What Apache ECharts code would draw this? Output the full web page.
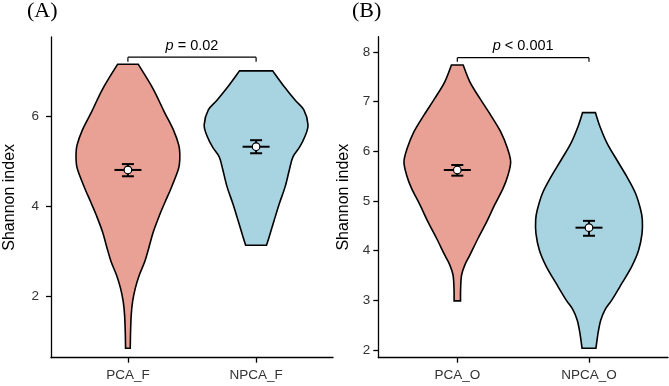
<!DOCTYPE html>
<html><head><meta charset="utf-8">
<script src="https://cdn.jsdelivr.net/npm/echarts@6/dist/echarts.min.js"></script>
<style>html,body{margin:0;padding:0;background:#fff}#c{width:669px;height:386px}</style>
</head><body><div id="c"></div>
<script>
// ---------- data ----------
const categoriesA = ['PCA_F', 'NPCA_F'];
const categoriesB = ['PCA_O', 'NPCA_O'];
const yTicksA = [2, 4, 6];
const yTicksB = [2, 3, 4, 5, 6, 7, 8];

// violin outlines: Shannon index values and relative density (max = 1)
const violinPCA_F_y = [7.155, 6.62, 6.10, 5.70, 5.36, 5.14, 4.92, 4.77, 4.40, 4.11, 3.81, 3.44, 3.07, 2.78, 2.48, 2.19, 1.89, 1.59, 1.22, 0.856];
const violinPCA_F_d = [0.197, 0.48, 0.70, 0.876, 0.98, 1.00, 0.99, 0.956, 0.83, 0.72, 0.61, 0.49, 0.40, 0.325, 0.22, 0.143, 0.09, 0.064, 0.051, 0.045];
const violinNPCA_F_y = [7.007, 6.66, 6.36, 6.14, 5.81, 5.55, 5.32, 5.10, 4.81, 4.44, 4.07, 3.70, 3.32, 3.14];
const violinNPCA_F_d = [0.32, 0.54, 0.75, 0.92, 1.00, 0.94, 0.84, 0.71, 0.64, 0.56, 0.45, 0.35, 0.25, 0.20];
const violinPCA_O_y = [7.738, 7.40, 7.07, 6.73, 6.40, 6.06, 5.79, 5.52, 5.26, 4.92, 4.58, 4.25, 3.91, 3.71, 3.51, 3.24, 2.99];
const violinPCA_O_d = [0.11, 0.235, 0.42, 0.625, 0.81, 0.94, 1.00, 0.95, 0.86, 0.70, 0.55, 0.39, 0.235, 0.14, 0.08, 0.062, 0.06];
const violinNPCA_O_y = [6.78, 6.50, 6.16, 5.83, 5.49, 5.16, 4.82, 4.62, 4.35, 4.01, 3.68, 3.34, 3.01, 2.81, 2.60, 2.34, 2.035];
const violinNPCA_O_d = [0.12, 0.205, 0.34, 0.52, 0.71, 0.87, 0.97, 1.00, 0.995, 0.93, 0.80, 0.615, 0.43, 0.30, 0.22, 0.17, 0.13];

// mean and error bars
const meanA = [4.81, 5.325];
const upperA = [4.94, 5.47];
const lowerA = [4.67, 5.18];
const meanB = [5.624, 4.463];
const upperB = [5.725, 4.60];
const lowerB = [5.51, 4.30];

const pTextA = ' = 0.02';
const pTextB = ' < 0.001';

// ---------- drawing ----------
const HALF = 0.405;            // max half width of violins, x units
const colPink = '#E9A195';
const colBlue = '#A8D4E2';
const fontSans = 'Liberation Sans, Arial, sans-serif';

// smooth curve through screen points (Catmull-Rom -> cubic Bezier), as path commands
function curveCmds(pts) {
  let s = '';
  const n = pts.length;
  for (let i = 0; i < n - 1; i++) {
    const p0 = pts[Math.max(i - 1, 0)], p1 = pts[i], p2 = pts[i + 1], p3 = pts[Math.min(i + 2, n - 1)];
    const c1x = p1[0] + (p2[0] - p0[0]) / 6, c1y = p1[1] + (p2[1] - p0[1]) / 6;
    const c2x = p2[0] - (p3[0] - p1[0]) / 6, c2y = p2[1] - (p3[1] - p1[1]) / 6;
    s += ' C' + c1x.toFixed(2) + ' ' + c1y.toFixed(2) + ' ' + c2x.toFixed(2) + ' ' + c2y.toFixed(2) + ' ' + p2[0].toFixed(2) + ' ' + p2[1].toFixed(2);
  }
  return s;
}

function violinSeries(gridIdx, xc, ys, ds, color) {
  return {
    type: 'custom', xAxisIndex: gridIdx, yAxisIndex: gridIdx,
    data: [[xc, ys[0]]],
    clip: false, silent: true, z: 2,
    renderItem: function (params, api) {
      const right = ys.map((y, i) => api.coord([xc + ds[i] * HALF, y]));
      const left = ys.map((y, i) => api.coord([xc - ds[i] * HALF, y])).reverse();
      let d = 'M' + left[left.length - 1][0].toFixed(2) + ' ' + left[left.length - 1][1].toFixed(2);
      d += ' L' + right[0][0].toFixed(2) + ' ' + right[0][1].toFixed(2);
      d += curveCmds(right);
      d += ' L' + left[0][0].toFixed(2) + ' ' + left[0][1].toFixed(2);
      d += curveCmds(left);
      d += ' Z';
      return {
        type: 'path',
        shape: { pathData: d },
        style: { fill: color, stroke: '#000', lineWidth: 1.6, lineJoin: 'miter' }
      };
    }
  };
}

function errorSeries(gridIdx, means, ups, lows) {
  return {
    type: 'custom', xAxisIndex: gridIdx, yAxisIndex: gridIdx,
    data: means.map((m, i) => [i + 1, m, ups[i], lows[i]]),
    z: 5, silent: true,
    renderItem: function (params, api) {
      const x = api.value(0);
      const pm = api.coord([x, api.value(1)]);
      const pu = api.coord([x, api.value(2)]);
      const pl = api.coord([x, api.value(3)]);
      const st = { stroke: '#000', lineWidth: 2 };
      return {
        type: 'group', children: [
          { type: 'line', shape: { x1: pu[0], y1: pu[1], x2: pl[0], y2: pl[1] }, style: st },
          { type: 'line', shape: { x1: pu[0] - 6, y1: pu[1], x2: pu[0] + 6, y2: pu[1] }, style: st },
          { type: 'line', shape: { x1: pl[0] - 6, y1: pl[1], x2: pl[0] + 6, y2: pl[1] }, style: st },
          { type: 'line', shape: { x1: pm[0] - 13.5, y1: pm[1], x2: pm[0] + 13.5, y2: pm[1] }, style: st },
          { type: 'circle', shape: { cx: pm[0], cy: pm[1], r: 3.8 }, style: { fill: '#fff', stroke: '#000', lineWidth: 1.2 } }
        ]
      };
    }
  };
}

function bracketSeries(gridIdx, yTop, yEnd, txt) {
  return {
    type: 'custom', xAxisIndex: gridIdx, yAxisIndex: gridIdx,
    data: [[1, yTop]], clip: false, silent: true, z: 6,
    renderItem: function (params, api) {
      const a = api.coord([1, yTop]);
      const b = api.coord([2, yTop]);
      const a2 = api.coord([1, yEnd]);
      const st = { stroke: '#000', lineWidth: 1.2 };
      return {
        type: 'group', children: [
          { type: 'line', shape: { x1: a[0], y1: a2[1], x2: a[0], y2: a[1] }, style: st },
          { type: 'line', shape: { x1: a[0], y1: a[1], x2: b[0], y2: b[1] }, style: st },
          { type: 'line', shape: { x1: b[0], y1: a[1], x2: b[0], y2: a2[1] }, style: st },
          { type: 'text', style: {
              text: '{i|p}' + txt, x: (a[0] + b[0]) / 2, y: a[1] - 4,
              align: 'center', verticalAlign: 'bottom',
              fontSize: 14.5, fontFamily: fontSans, fill: '#000',
              rich: { i: { fontStyle: 'italic', fontSize: 14.5, fontFamily: fontSans, fill: '#000' } }
          } }
        ]
      };
    }
  };
}

function xAxisCfg(gridIdx, cats) {
  return {
    gridIndex: gridIdx, type: 'value', min: 0.4, max: 2.6,
    splitLine: { show: false },
    axisLine: { onZero: false, lineStyle: { color: '#000', width: 1.3 } },
    axisTick: { customValues: [1, 2], length: 5, lineStyle: { color: '#000', width: 1.3 } },
    axisLabel: { customValues: [1, 2], formatter: v => cats[Math.round(v) - 1],
      color: '#333', fontSize: 13.5, fontFamily: fontSans, margin: 11 }
  };
}

function yAxisCfg(gridIdx, min, max, ticks, margin, gap) {
  return {
    gridIndex: gridIdx, type: 'value', min: min, max: max,
    splitLine: { show: false },
    axisLine: { show: true, onZero: false, lineStyle: { color: '#000', width: 1.3 } },
    axisTick: { show: true, customValues: ticks, length: 5, lineStyle: { color: '#000', width: 1.3 } },
    axisLabel: { customValues: ticks, color: '#333', fontSize: 13.5, fontFamily: fontSans, margin: margin },
    name: 'Shannon index', nameLocation: 'middle', nameRotate: 90, nameGap: gap,
    nameTextStyle: { fontSize: 16, color: '#000', fontFamily: fontSans }
  };
}

const chart = echarts.init(document.getElementById('c'), null, { renderer: 'canvas' });
chart.setOption({
  animation: false,
  backgroundColor: '#fff',
  title: [
    { text: '(A)', left: 27, top: 0, padding: 0, textStyle: { fontFamily: 'Liberation Serif, Times New Roman, serif', fontSize: 22, fontWeight: 'normal', color: '#000' } },
    { text: '(B)', left: 352, top: 0, padding: 0, textStyle: { fontFamily: 'Liberation Serif, Times New Roman, serif', fontSize: 22, fontWeight: 'normal', color: '#000' } }
  ],
  grid: [
    { left: 51, right: 336, top: 37, bottom: 28.3 },
    { left: 378.3, right: 1, top: 36.7, bottom: 28.3 }
  ],
  xAxis: [xAxisCfg(0, categoriesA), xAxisCfg(1, categoriesB)],
  yAxis: [
    yAxisCfg(0, 0.647, 7.758, yTicksA, 12, 33),
    yAxisCfg(1, 1.845, 8.308, yTicksB, 8, 27)
  ],
  series: [
    violinSeries(0, 1, violinPCA_F_y, violinPCA_F_d, colPink),
    violinSeries(0, 2, violinNPCA_F_y, violinNPCA_F_d, colBlue),
    violinSeries(1, 1, violinPCA_O_y, violinPCA_O_d, colPink),
    violinSeries(1, 2, violinNPCA_O_y, violinNPCA_O_d, colBlue),
    errorSeries(0, meanA, upperA, lowerA),
    errorSeries(1, meanB, upperB, lowerB),
    bracketSeries(0, 7.31, 7.21, pTextA),
    bracketSeries(1, 7.885, 7.805, pTextB)
  ]
});
</script>
</body></html>
